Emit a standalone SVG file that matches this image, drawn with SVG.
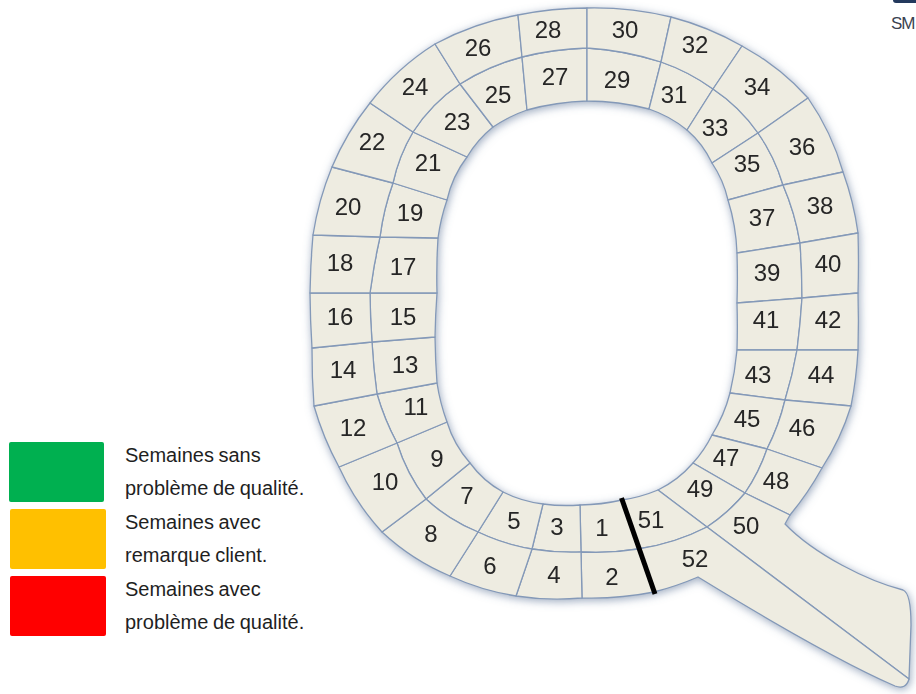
<svg xmlns="http://www.w3.org/2000/svg" width="916" height="694" viewBox="0 0 916 694">
<defs>
<filter id="shadow" x="-10%" y="-10%" width="120%" height="120%">
<feDropShadow dx="1" dy="2" stdDeviation="4" flood-color="#5f7596" flood-opacity="0.6"/>
</filter>
</defs>
<style>
.cell{fill:#EEECE1;stroke:#8499B8;stroke-width:1.3;stroke-linejoin:round}
.num{font-family:"Liberation Sans",Arial,sans-serif;font-size:24px;fill:#262626;text-anchor:middle}
.leg{font-family:"Liberation Sans",Arial,sans-serif;font-size:20px;fill:#1f1f1f;word-spacing:-1px}
</style>
<rect width="916" height="694" fill="#ffffff"/>
<g id="corner">
<rect x="893" y="-8" width="40" height="11" rx="3" fill="#23395d"/>
<text x="891" y="29" font-family="Liberation Sans, Arial, sans-serif" font-size="17" letter-spacing="-1" fill="#3a4250">SM</text>
</g>
<g id="weeks" filter="url(#shadow)">
<g id="w1"><path class="cell" d="M622 500A200 200 0 0 1 580 505L581 552A260 260 0 0 0 638 549Z"/><text class="num" x="602" y="536">1</text></g>
<g id="w2"><path class="cell" d="M638 549A260 260 0 0 1 581 552L582 598A320 320 0 0 0 654 592Z"/><text class="num" x="612" y="585">2</text></g>
<g id="w3"><path class="cell" d="M580 505A180 180 0 0 1 543 504L532 549A240 240 0 0 0 581 552Z"/><text class="num" x="557" y="535">3</text></g>
<g id="w4"><path class="cell" d="M581 552A240 240 0 0 1 532 549L516 596A270 270 0 0 0 582 598Z"/><text class="num" x="554" y="583">4</text></g>
<g id="w5"><path class="cell" d="M543 504A120 120 0 0 1 503 492L478 532A200 200 0 0 0 532 549Z"/><text class="num" x="514" y="529">5</text></g>
<g id="w6"><path class="cell" d="M532 549A200 200 0 0 1 478 532L450 576A250 250 0 0 0 516 596Z"/><text class="num" x="490" y="574">6</text></g>
<g id="w7"><path class="cell" d="M503 492A100 100 0 0 1 470 463L426 499A170 170 0 0 0 478 532Z"/><text class="num" x="467" y="504">7</text></g>
<g id="w8"><path class="cell" d="M478 532A170 170 0 0 1 426 499L382 532A230 230 0 0 0 450 576Z"/><text class="num" x="431" y="542">8</text></g>
<g id="w9"><path class="cell" d="M470 463A110 110 0 0 1 447 422L397 443A180 180 0 0 0 426 499Z"/><text class="num" x="437" y="467">9</text></g>
<g id="w10"><path class="cell" d="M426 499A180 180 0 0 1 397 443L339 467A250 250 0 0 0 382 532Z"/><text class="num" x="385" y="490">10</text></g>
<g id="w11"><path class="cell" d="M447 422A200 200 0 0 1 437 383L377 394A250 250 0 0 0 397 443Z"/><text class="num" x="416" y="415">11</text></g>
<g id="w12"><path class="cell" d="M397 443A250 250 0 0 1 377 394L314 406A300 300 0 0 0 339 467Z"/><text class="num" x="353" y="436">12</text></g>
<g id="w13"><path class="cell" d="M437 383A800 800 0 0 1 435 337L372 342A600 600 0 0 0 377 394Z"/><text class="num" x="405" y="373">13</text></g>
<g id="w14"><path class="cell" d="M377 394A600 600 0 0 1 372 342L312 348A700 700 0 0 0 314 406Z"/><text class="num" x="343" y="378">14</text></g>
<g id="w15"><path class="cell" d="M435 337A800 800 0 0 1 437 293L370 293A800 800 0 0 0 372 342Z"/><text class="num" x="403" y="325">15</text></g>
<g id="w16"><path class="cell" d="M372 342A800 800 0 0 1 370 293L310 293A1000 1000 0 0 0 312 348Z"/><text class="num" x="340" y="325">16</text></g>
<g id="w17"><path class="cell" d="M437 293A600 600 0 0 1 438 238L380 237A600 600 0 0 0 370 293Z"/><text class="num" x="403" y="275">17</text></g>
<g id="w18"><path class="cell" d="M370 293A600 600 0 0 1 380 237L313 235A800 800 0 0 0 310 293Z"/><text class="num" x="340" y="271">18</text></g>
<g id="w19"><path class="cell" d="M438 238A200 200 0 0 1 447 200L393 183A250 250 0 0 0 380 237Z"/><text class="num" x="410" y="221">19</text></g>
<g id="w20"><path class="cell" d="M380 237A250 250 0 0 1 393 183L332 167A300 300 0 0 0 313 235Z"/><text class="num" x="348" y="215">20</text></g>
<g id="w21"><path class="cell" d="M447 200A110 110 0 0 1 467 157L413 132A170 170 0 0 0 393 183Z"/><text class="num" x="428" y="171">21</text></g>
<g id="w22"><path class="cell" d="M393 183A170 170 0 0 1 413 132L370 103A270 270 0 0 0 332 167Z"/><text class="num" x="372" y="150">22</text></g>
<g id="w23"><path class="cell" d="M467 157A110 110 0 0 1 493 127L460 84A170 170 0 0 0 413 132Z"/><text class="num" x="457" y="130">23</text></g>
<g id="w24"><path class="cell" d="M413 132A170 170 0 0 1 460 84L435 44A250 250 0 0 0 370 103Z"/><text class="num" x="415" y="95">24</text></g>
<g id="w25"><path class="cell" d="M493 127A150 150 0 0 1 527 110L522 57A220 220 0 0 0 460 84Z"/><text class="num" x="498" y="103">25</text></g>
<g id="w26"><path class="cell" d="M460 84A220 220 0 0 1 522 57L518 15A280 280 0 0 0 435 44Z"/><text class="num" x="478" y="56">26</text></g>
<g id="w27"><path class="cell" d="M527 110A250 250 0 0 1 587 101L587 48A300 300 0 0 0 522 57Z"/><text class="num" x="555" y="85">27</text></g>
<g id="w28"><path class="cell" d="M522 57A300 300 0 0 1 587 48L587 8A350 350 0 0 0 518 15Z"/><text class="num" x="548" y="38">28</text></g>
<g id="w29"><path class="cell" d="M587 101A250 250 0 0 1 649 109L661 62A300 300 0 0 0 587 48Z"/><text class="num" x="617" y="88">29</text></g>
<g id="w30"><path class="cell" d="M587 48A300 300 0 0 1 661 62L671 17A330 330 0 0 0 587 8Z"/><text class="num" x="625" y="38">30</text></g>
<g id="w31"><path class="cell" d="M649 109A120 120 0 0 1 687 130L713 89A200 200 0 0 0 661 62Z"/><text class="num" x="674" y="103">31</text></g>
<g id="w32"><path class="cell" d="M661 62A200 200 0 0 1 713 89L742 46A290 290 0 0 0 671 17Z"/><text class="num" x="695" y="53">32</text></g>
<g id="w33"><path class="cell" d="M687 130A100 100 0 0 1 712 163L758 133A170 170 0 0 0 713 89Z"/><text class="num" x="715" y="136">33</text></g>
<g id="w34"><path class="cell" d="M713 89A170 170 0 0 1 758 133L808 98A250 250 0 0 0 742 46Z"/><text class="num" x="757" y="95">34</text></g>
<g id="w35"><path class="cell" d="M712 163A110 110 0 0 1 728 200L783 185A180 180 0 0 0 758 133Z"/><text class="num" x="747" y="172">35</text></g>
<g id="w36"><path class="cell" d="M758 133A180 180 0 0 1 783 185L843 172A250 250 0 0 0 808 98Z"/><text class="num" x="802" y="155">36</text></g>
<g id="w37"><path class="cell" d="M728 200A200 200 0 0 1 737 253L800 243A250 250 0 0 0 783 185Z"/><text class="num" x="762" y="226">37</text></g>
<g id="w38"><path class="cell" d="M783 185A250 250 0 0 1 800 243L858 233A300 300 0 0 0 843 172Z"/><text class="num" x="820" y="214">38</text></g>
<g id="w39"><path class="cell" d="M737 253A800 800 0 0 1 737 303L802 298A800 800 0 0 0 800 243Z"/><text class="num" x="767" y="281">39</text></g>
<g id="w40"><path class="cell" d="M800 243A800 800 0 0 1 802 298L858 293A1000 1000 0 0 0 858 233Z"/><text class="num" x="828" y="272">40</text></g>
<g id="w41"><path class="cell" d="M737 303A800 800 0 0 1 737 350L797 350A800 800 0 0 0 802 298Z"/><text class="num" x="766" y="328">41</text></g>
<g id="w42"><path class="cell" d="M802 298A800 800 0 0 1 797 350L858 350A1000 1000 0 0 0 858 293Z"/><text class="num" x="828" y="328">42</text></g>
<g id="w43"><path class="cell" d="M737 350A300 300 0 0 1 730 393L785 400A400 400 0 0 0 797 350Z"/><text class="num" x="758" y="383">43</text></g>
<g id="w44"><path class="cell" d="M797 350A400 400 0 0 1 785 400L851 406A400 400 0 0 0 858 350Z"/><text class="num" x="821" y="383">44</text></g>
<g id="w45"><path class="cell" d="M730 393A150 150 0 0 1 712 435L767 449A220 220 0 0 0 785 400Z"/><text class="num" x="747" y="427">45</text></g>
<g id="w46"><path class="cell" d="M785 400A220 220 0 0 1 767 449L822 468A250 250 0 0 0 851 406Z"/><text class="num" x="802" y="436">46</text></g>
<g id="w47"><path class="cell" d="M712 435A120 120 0 0 1 693 463L745 493A180 180 0 0 0 767 449Z"/><text class="num" x="726" y="466">47</text></g>
<g id="w48"><path class="cell" d="M767 449A180 180 0 0 1 745 493L790 515A300 300 0 0 0 822 468Z"/><text class="num" x="776" y="489">48</text></g>
<g id="w49"><path class="cell" d="M693 463A110 110 0 0 1 658 490L707 527A180 180 0 0 0 745 493Z"/><text class="num" x="700" y="497">49</text></g>
<g id="w50"><path class="cell" d="M745 493A180 180 0 0 1 707 527L909 679L911 625Q911 593 903 590C868 581 815 555 785 524L790 515Z"/><text class="num" x="746" y="534">50</text></g>
<g id="w51"><path class="cell" d="M658 490A150 150 0 0 1 622 500L638 549A220 220 0 0 0 707 527Z"/><text class="num" x="651" y="528">51</text></g>
<g id="w52"><path class="cell" d="M707 527A220 220 0 0 1 638 549L654 592A300 300 0 0 0 698 577C760 615 840 662 895 686Q906 690 909 679Z"/><text class="num" x="695" y="567">52</text></g>
</g>
<g id="start-line">
<line x1="621.5" y1="498" x2="655" y2="594" stroke="#000000" stroke-width="5"/>
</g>
<g id="legend">
<g id="legend-green"><rect x="9" y="442" width="95" height="60" rx="2" fill="#00B050"/><text class="leg" x="125" y="462">Semaines sans</text><text class="leg" x="125" y="495">problème de qualité.</text></g>
<g id="legend-orange"><rect x="10" y="509" width="96" height="60" rx="2" fill="#FFC000"/><text class="leg" x="125" y="529">Semaines avec</text><text class="leg" x="125" y="562">remarque client.</text></g>
<g id="legend-red"><rect x="10" y="576" width="96" height="60" rx="2" fill="#FF0000"/><text class="leg" x="125" y="596">Semaines avec</text><text class="leg" x="125" y="629">problème de qualité.</text></g>
</g>
</svg>
